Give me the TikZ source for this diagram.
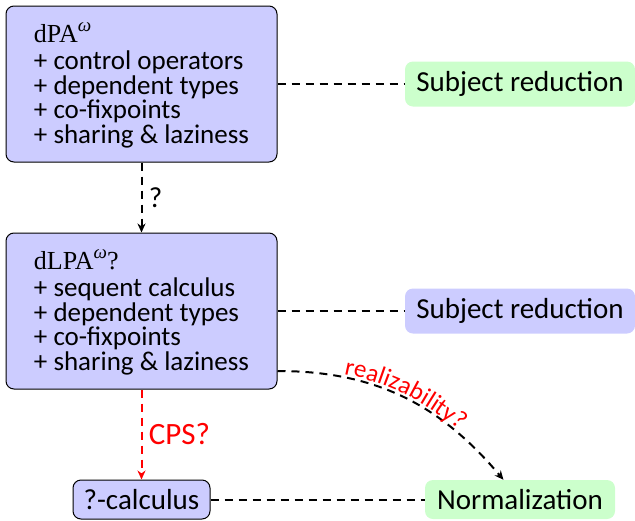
\documentclass[tikz,border=0pt]{standalone}
\usepackage{fontspec}
\setsansfont{Carlito}
\newfontfamily\titleserif{Liberation Serif}
\usetikzlibrary{arrows.meta,decorations.text}
\definecolor{boxblue}{HTML}{CCCCFF}
\definecolor{boxgreen}{HTML}{CCFFCC}
\newcommand\titlefont{\fontsize{26}{24.5}\selectfont\titleserif}
\newcommand\omegasup{\raisebox{0.45em}{\fontsize{19}{19}\selectfont\itshape ω}}
\begin{document}
\begin{tikzpicture}[x=1pt,y=-1pt,
  listfont/.style={font=\fontsize{27}{24.5}\selectfont\sffamily},
  bodyfont/.style={font=\fontsize{29}{29}\selectfont\sffamily},
  calcbox/.style={draw=black, line width=1pt, fill=boxblue, rounded corners=8pt, align=left, listfont},
  resultbox/.style={rounded corners=8pt, inner sep=0pt, bodyfont},
  link/.style={line width=2pt, dash pattern=on 8pt off 6pt},
  arr/.style={link, -{Stealth[length=9pt,width=8pt]}},
]
\useasboundingbox (0,0) rectangle (635,520);

\node[calcbox, minimum width=271pt, minimum height=156pt] (dpa) at (141.5,84)
  {{\titlefont\rule{0pt}{23pt}dPA\omegasup}\\[2.5pt] + control operators\\ + dependent types\\ + co-fixpoints\\ + sharing \& laziness};
\node[calcbox, minimum width=271pt, minimum height=156pt] (dlpa) at (141.5,311)
  {{\titlefont\rule{0pt}{23pt}dLPA\omegasup?}\\[2.5pt] + sequent calculus\\ + dependent types\\ + co-fixpoints\\ + sharing \& laziness};
\node[calcbox, bodyfont, minimum width=137pt, minimum height=39pt, inner sep=0pt] (calc) at (141.5,499.5) {?-calculus};

\node[resultbox, fill=boxgreen, minimum width=230pt, minimum height=45pt] (sr1) at (520,84) {Subject reduction};
\node[resultbox, fill=boxblue, minimum width=230pt, minimum height=45pt] (sr2) at (520,311) {Subject reduction};
\node[resultbox, fill=boxgreen, minimum width=190pt, minimum height=39pt] (norm) at (520,499.5) {Normalization};

\draw[link] (dpa) -- (sr1);
\draw[arr] (dpa) -- node[right, bodyfont, xshift=3pt] (q) {?} (dlpa);
\draw[link] (dlpa) -- (sr2);
\draw[arr, red] (dlpa) -- node[right, font=\fontsize{31}{31}\selectfont\sffamily, text=red, xshift=3pt] (cps) {CPS?} (calc);
\draw[link] (calc) -- (norm);
\draw[arr] ([yshift=-60pt]dlpa.east) to[out=0,in=130] (norm);
\path[decorate, decoration={text along path, text align=center, raise=3pt,
    text color=red, text={|\fontsize{25}{25}\selectfont\sffamily|realizability?}}]
  ([yshift=-60pt]dlpa.east) to[out=0,in=130] (norm);
\end{tikzpicture}
\end{document}
